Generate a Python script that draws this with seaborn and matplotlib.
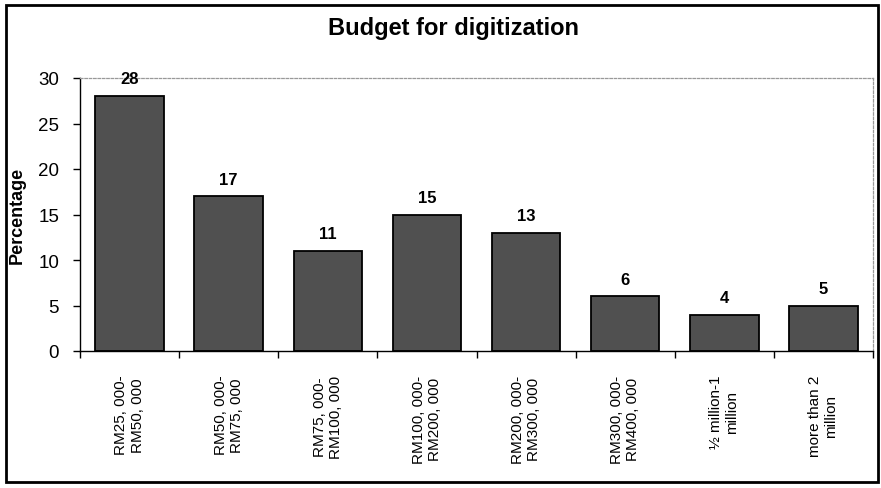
import matplotlib
matplotlib.use("Agg")
import matplotlib.pyplot as plt
import seaborn as sns
import pandas as pd

categories = ["RM25, 000-\nRM50, 000", "RM50, 000-\nRM75, 000", "RM75, 000-\nRM100, 000",
              "RM100, 000-\nRM200, 000", "RM200, 000-\nRM300, 000", "RM300, 000-\nRM400, 000",
              "½ million-1\nmillion", "more than 2\nmillion"]
values = [28, 17, 11, 15, 13, 6, 4, 5]
title = "Budget for digitization"
ylabel = "Percentage"
yticks = [0, 5, 10, 15, 20, 25, 30]

sns.set_theme(style="white")
plt.rcParams['font.family'] = ['Liberation Sans', 'DejaVu Sans']
plt.rcParams['text.color'] = 'black'
plt.rcParams['axes.labelcolor'] = 'black'
plt.rcParams['xtick.color'] = 'black'
plt.rcParams['ytick.color'] = 'black'

df = pd.DataFrame({"cat": categories, "val": values})

fig = plt.figure(figsize=(8.81, 4.89), dpi=100)
ax = fig.add_axes([80/881, 1-352/489, (873-80)/881, (352-79)/489])

sns.barplot(data=df, x="cat", y="val", ax=ax, color="#505050", edgecolor="black",
            linewidth=1.3, width=0.69, saturation=1)

ax.set_ylim(0, 30)
ax.set_xlim(-0.5, len(categories) - 0.5)
ax.set_yticks(yticks)
ax.set_yticklabels([str(t) for t in yticks], fontsize=13.5)
ax.set_xlabel("")
ax.set_ylabel(ylabel, fontsize=13, fontweight="bold", labelpad=9)
ax.set_xticks(range(len(categories)))
ax.set_xticklabels(categories, rotation=90, fontsize=11, linespacing=1.2, ha="center", va="top")
ax.tick_params(axis="x", length=0, pad=17)
ax.tick_params(axis="y", length=5, direction="out", left=True, width=1, pad=10)

# minor ticks between categories
ax.set_xticks([i + 0.5 for i in range(-1, len(categories))], minor=True)
ax.tick_params(axis="x", which="minor", length=5, bottom=True, direction="out", width=1)

for s in ["top", "right"]:
    ax.spines[s].set_color("#999999")
    ax.spines[s].set_linestyle((0, (2, 1.5)))
    ax.spines[s].set_linewidth(0.9)
for s in ["left", "bottom"]:
    ax.spines[s].set_color("black")
    ax.spines[s].set_linewidth(1)

for c in ax.containers:
    ax.bar_label(c, fmt="%d", padding=7, fontsize=12, fontweight="bold")

fig.text(453/881, 1-29/489, title, ha="center", va="center", fontsize=17, fontweight="bold")

border = plt.Rectangle((6/881, 6/489), 872/881, 477/489, transform=fig.transFigure,
                       fill=False, edgecolor="black", linewidth=2)
fig.patches.append(border)

fig.savefig("out.png", dpi=100)
